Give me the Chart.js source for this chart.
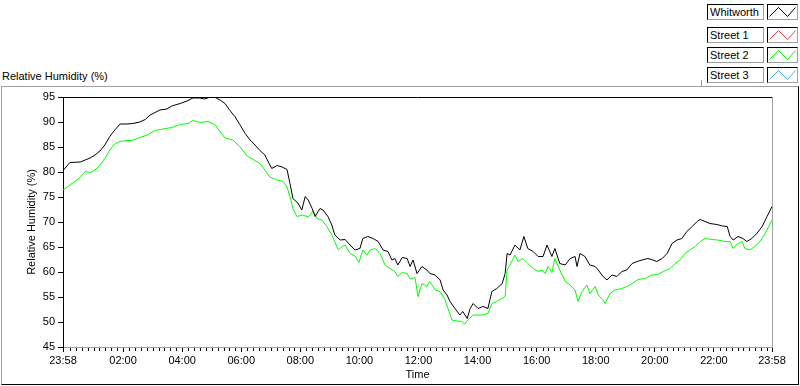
<!DOCTYPE html>
<html>
<head>
<meta charset="utf-8">
<script src="https://cdn.jsdelivr.net/npm/chart.js@4"></script>
<style>
  html, body { margin: 0; padding: 0; background: #fff; }
  body { width: 800px; height: 386px; position: relative; overflow: hidden;
         font-family: "Liberation Sans", Arial, sans-serif; font-size: 11px; color: #000; }
  #panel { position: absolute; left: 1px; top: 86px; width: 798px; height: 299px; box-sizing: border-box;
           border-top: 1px solid #a0a0a0; border-left: 1px solid #a0a0a0;
           border-right: 1px solid #000; border-bottom: 1px solid #000; }
  #name { position: absolute; left: 2px; top: 70px; line-height: 13px; }
  #legendEdge { position: absolute; left: 701px; top: 80px; width: 1px; height: 6px; background: #a0a0a0; }
  .lbl, .sw { position: absolute; height: 16px; box-sizing: border-box; background: #fff;
              border-top: 1px solid #000; border-left: 1px solid #000;
              border-right: 1px solid #a0a0a0; border-bottom: 1px solid #a0a0a0; }
  .lbl { left: 707px; width: 57px; padding-left: 2px; line-height: 14px; }
  .sw { left: 767px; width: 31px; }
  .sw svg { position: absolute; left: 0; top: 0; }
  canvas { position: absolute; left: 0; top: 0; }
</style>
</head>
<body>
<div id="panel"></div>
<div id="name">Relative Humidity (%)</div>
<div id="legendEdge"></div>
<div id="legend"></div>
<canvas id="chart" width="800" height="386"></canvas>
<script>
// minutes after 23:58
const tickMinutes = [0, 122, 242, 362, 482, 602, 722, 842, 962, 1082, 1202, 1322, 1440];
const tickLabels = ['23:58', '02:00', '04:00', '06:00', '08:00', '10:00', '12:00',
                    '14:00', '16:00', '18:00', '20:00', '22:00', '23:58'];

const legendNames = ['Whitworth', 'Street 1', 'Street 2', 'Street 3'];
const legendColors = ['#000000', '#ff4040', '#00ff00', '#40b0ff'];
const legendTops = [4, 27, 47, 67];

const whitworthTimes = [0, 14, 35, 45, 55, 65, 75, 85, 95, 106, 116, 130, 142, 156, 167, 177, 187, 197, 211, 221,
  238, 252, 264, 278, 288, 299, 309, 319, 329, 339, 349, 359, 370, 380, 390, 400, 410, 416, 424, 435,
  445, 455, 461, 467, 477, 485, 492, 498, 506, 512, 522, 528, 538, 546, 552, 563, 573, 583, 593, 603,
  609, 619, 630, 640, 650, 660, 668, 674, 680, 689, 699, 705, 711, 719, 729, 739, 745, 756, 766, 772,
  780, 786, 796, 806, 812, 821, 827, 833, 843, 853, 863, 871, 881, 892, 898, 902, 908, 918, 928, 936,
  944, 955, 965, 975, 983, 993, 999, 1009, 1020, 1030, 1040, 1044, 1050, 1060, 1070, 1081, 1087, 1097, 1105, 1115,
  1125, 1135, 1145, 1156, 1166, 1176, 1188, 1198, 1206, 1217, 1227, 1237, 1247, 1257, 1267, 1278, 1288, 1294, 1304, 1314,
  1328, 1340, 1349, 1355, 1361, 1371, 1381, 1389, 1399, 1409, 1420, 1430, 1440];
const whitworthRH = [80.3, 81.9, 82.0, 82.4, 82.8, 83.4, 84.2, 85.4, 87.1, 88.5, 89.6, 89.6, 89.7, 90.0, 90.5, 91.4, 91.9, 92.4, 92.6, 93.2,
  93.7, 94.2, 94.8, 94.8, 94.6, 95.0, 94.9, 94.4, 93.7, 92.3, 91.1, 89.5, 87.7, 86.4, 85.4, 84.3, 83.4, 82.2, 80.7, 81.3,
  81.0, 80.5, 77.7, 74.7, 73.8, 72.4, 75.1, 74.4, 72.7, 71.1, 72.7, 72.4, 71.1, 69.4, 67.4, 66.4, 66.5, 65.4, 64.4, 64.7,
  66.7, 67.1, 66.7, 66.1, 64.4, 64.1, 62.4, 62.7, 61.4, 62.9, 62.7, 61.1, 62.4, 59.7, 61.1, 60.4, 59.7, 59.4, 58.4, 56.4,
  55.4, 54.1, 52.7, 51.4, 52.1, 50.7, 52.7, 53.7, 52.7, 53.1, 52.7, 56.1, 56.7, 57.7, 59.7, 63.7, 63.4, 65.4, 64.4, 67.1,
  64.7, 64.1, 63.1, 63.1, 65.4, 63.1, 64.7, 61.7, 61.4, 62.7, 63.1, 61.1, 63.7, 63.1, 61.4, 61.1, 60.4, 59.1, 58.4, 59.4,
  59.1, 60.1, 60.4, 61.7, 62.1, 62.4, 62.7, 62.4, 62.1, 62.7, 63.7, 65.7, 66.4, 66.7, 68.1, 69.1, 70.1, 70.5, 70.1, 69.7,
  69.5, 69.2, 69.1, 67.1, 66.4, 67.1, 66.7, 66.1, 66.7, 67.7, 69.1, 71.1, 73.1];

const street2Times = [0, 14, 35, 45, 55, 65, 75, 85, 95, 106, 116, 130, 140, 156, 171, 187, 203, 221, 238, 254,
  264, 278, 294, 309, 321, 329, 345, 359, 374, 386, 400, 410, 420, 435, 447, 455, 461, 467, 475, 487,
  498, 508, 516, 526, 536, 546, 552, 559, 567, 573, 583, 593, 601, 609, 617, 624, 634, 644, 654, 664,
  674, 680, 689, 699, 705, 715, 721, 729, 739, 745, 756, 766, 776, 782, 790, 800, 810, 816, 823, 833,
  843, 853, 863, 871, 881, 892, 898, 902, 908, 918, 924, 934, 944, 955, 965, 973, 979, 985, 993, 999,
  1009, 1020, 1030, 1040, 1046, 1054, 1064, 1070, 1081, 1087, 1097, 1101, 1111, 1121, 1135, 1145, 1156, 1168, 1182, 1196,
  1208, 1219, 1233, 1243, 1253, 1263, 1273, 1284, 1294, 1304, 1318, 1330, 1345, 1355, 1361, 1369, 1379, 1385, 1395, 1405,
  1416, 1426, 1440];
const street2RH = [76.4, 77.4, 78.9, 80.1, 79.9, 80.4, 81.4, 82.7, 84.4, 85.7, 86.1, 86.3, 86.3, 86.9, 87.4, 88.3, 88.6, 88.9, 89.5, 89.7,
  90.3, 89.9, 90.1, 89.5, 87.8, 86.8, 86.4, 85.1, 83.2, 82.5, 81.7, 80.4, 79.0, 78.4, 78.1, 77.0, 75.1, 72.7, 71.1, 71.4,
  71.0, 72.2, 70.7, 70.4, 69.1, 67.4, 66.1, 64.4, 65.1, 65.4, 63.7, 63.2, 61.9, 64.4, 63.4, 64.4, 64.7, 63.7, 61.4, 60.7,
  60.1, 59.1, 59.9, 59.7, 58.6, 58.9, 55.1, 57.7, 57.1, 58.1, 56.4, 56.1, 54.4, 52.7, 50.4, 50.2, 50.1, 49.6, 50.5, 51.4,
  51.4, 51.4, 51.7, 53.7, 54.1, 54.7, 55.1, 60.4, 61.4, 63.4, 62.1, 62.7, 61.7, 60.7, 60.1, 60.4, 59.7, 61.1, 59.9, 62.7,
  60.4, 58.1, 57.4, 56.4, 54.1, 56.1, 57.4, 55.7, 57.1, 55.4, 54.4, 53.7, 55.7, 56.4, 56.7, 57.1, 57.7, 58.5, 58.7, 59.4,
  59.5, 60.1, 60.7, 61.7, 62.4, 63.7, 64.4, 65.1, 66.1, 66.7, 66.5, 66.4, 66.1, 66.1, 64.7, 65.6, 66.1, 64.7, 64.4, 65.1,
  66.1, 67.7, 70.4];

// legend boxes
const legend = document.getElementById('legend');
legendNames.forEach((name, i) => {
  const lbl = document.createElement('div');
  lbl.className = 'lbl';
  lbl.style.top = legendTops[i] + 'px';
  lbl.textContent = name;
  legend.appendChild(lbl);
  const sw = document.createElement('div');
  sw.className = 'sw';
  sw.style.top = legendTops[i] + 'px';
  sw.innerHTML = '<svg width="29" height="14"><polyline points="1.5,11.5 10.5,2.5 19.5,11.5 27.5,2.5" fill="none" stroke="' +
    legendColors[i] + '" stroke-width="1"/></svg>';
  legend.appendChild(sw);
});

const toPoints = (times, values) => times.map((t, i) => ({ x: t, y: values[i] }));

// plot frame (top black, right grey) and the small x minor ticks
const framePlugin = {
  id: 'frame',
  afterDraw(chart) {
    const { ctx, chartArea: a, scales } = chart;
    ctx.save();
    ctx.lineWidth = 1;
    ctx.strokeStyle = '#000';
    ctx.beginPath();
    ctx.moveTo(a.left, a.top + 0.5);
    ctx.lineTo(a.right, a.top + 0.5);
    ctx.stroke();
    ctx.strokeStyle = '#a0a0a0';
    ctx.beginPath();
    ctx.moveTo(a.right + 0.5, a.top);
    ctx.lineTo(a.right + 0.5, a.bottom + 1);
    ctx.stroke();
    ctx.strokeStyle = '#000';
    ctx.beginPath();
    for (let m = 14; m < 1440; m += 12) {
      if (tickMinutes.includes(m)) continue;
      const px = Math.round(scales.x.getPixelForValue(m)) + 0.5;
      ctx.moveTo(px, a.bottom + 1);
      ctx.lineTo(px, a.bottom + 4);
    }
    ctx.stroke();
    ctx.restore();
  }
};

const axisFont = { family: '"Liberation Sans", Arial, sans-serif', size: 11 };

new Chart(document.getElementById('chart'), {
  type: 'line',
  data: {
    datasets: [
      { label: legendNames[0], data: toPoints(whitworthTimes, whitworthRH), borderColor: legendColors[0] },
      { label: legendNames[2], data: toPoints(street2Times, street2RH), borderColor: legendColors[2] }
    ]
  },
  options: {
    responsive: false,
    animation: false,
    events: [],
    layout: { padding: { top: 97, left: 25, right: 28, bottom: 4 } },
    elements: {
      line: { borderWidth: 1, tension: 0, fill: false },
      point: { radius: 0 }
    },
    plugins: { legend: { display: false }, tooltip: { enabled: false } },
    scales: {
      x: {
        type: 'linear',
        min: 0,
        max: 1440,
        afterBuildTicks: scale => { scale.ticks = tickMinutes.map(v => ({ value: v })); },
        afterFit: scale => { scale.height = 35; },
        ticks: {
          autoSkip: false,
          maxRotation: 0,
          padding: 2,
          color: '#000',
          font: axisFont,
          callback: (v, i) => tickLabels[i]
        },
        grid: { drawOnChartArea: false, drawTicks: true, tickLength: 5, color: '#000' },
        border: { display: true, color: '#a0a0a0' },
        title: { display: true, text: 'Time', color: '#000', font: axisFont, padding: 0 }
      },
      y: {
        min: 45,
        max: 95,
        afterFit: scale => { scale.width = 38; },
        ticks: { stepSize: 5, padding: 3, color: '#000', font: axisFont },
        grid: { drawOnChartArea: false, drawTicks: true, tickLength: 5, color: '#000' },
        border: { display: true, color: '#000' },
        title: { display: true, text: 'Relative Humidity (%)', color: '#000', font: axisFont, padding: 0 }
      }
    }
  },
  plugins: [framePlugin]
});
</script>
</body>
</html>
